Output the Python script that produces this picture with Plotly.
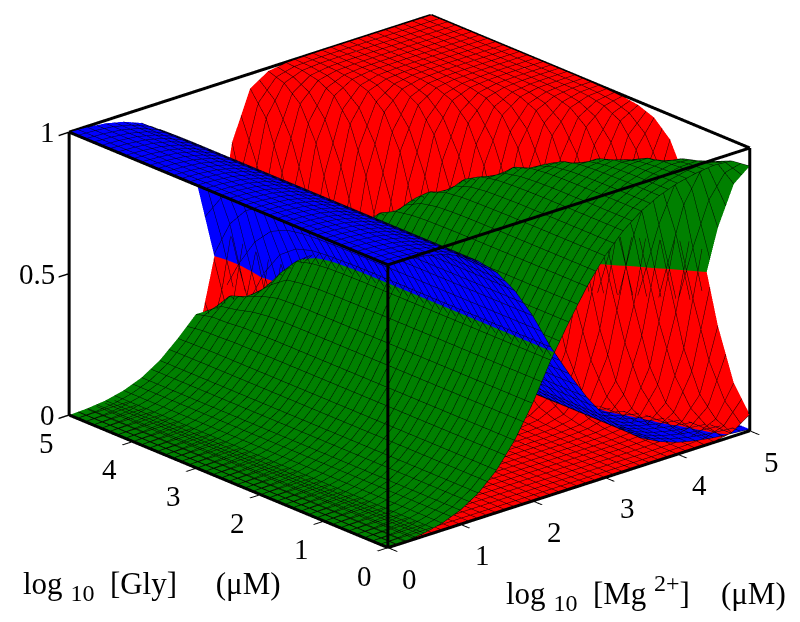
import numpy as np
import plotly.graph_objects as go

# log10 concentrations of the data grid
mg_log = [0, .25, .5, .75, 1, 1.25, 1.5, 1.75, 2, 2.25, 2.5, 2.75, 3, 3.25, 3.5, 3.75, 4, 4.25, 4.5, 4.75, 5]
gly_log = [0, .25, .5, .75, 1, 1.25, 1.5, 1.75, 2, 2.25, 2.5, 2.75, 3, 3.25, 3.5, 3.75, 4, 4.25, 4.5, 4.75, 5]

# fractions x 1000, one row per gly_log value, one column per mg_log value
RED = [
[0,0,0,0,0,0,0,0,0,0,0,0,0,0,0,0,0,1,3,14,58],
[0,0,0,0,0,0,0,0,0,0,0,0,0,0,0,0,1,2,10,39,146],
[0,0,0,0,0,0,0,0,0,0,0,0,0,0,0,0,2,6,26,102,325],
[0,0,0,0,0,0,0,0,0,0,0,0,0,0,0,1,4,17,70,241,573],
[0,0,0,0,0,0,0,0,0,0,0,0,0,0,1,3,11,47,174,472,791],
[0,0,0,0,0,0,0,0,0,0,0,0,0,0,2,7,31,121,370,713,913],
[0,0,0,0,0,0,0,0,0,0,0,0,0,1,5,21,83,280,624,875,967],
[0,0,0,0,0,0,0,0,0,0,0,0,1,3,13,55,202,521,822,952,988],
[0,0,0,0,0,0,0,0,0,0,0,0,2,8,36,141,415,753,928,982,996],
[0,0,0,0,0,0,0,0,0,0,0,1,5,23,95,315,666,895,973,994,998],
[0,0,0,0,0,0,0,0,0,0,1,3,14,62,228,564,848,960,990,998,999],
[0,0,0,0,0,0,0,0,0,0,2,8,39,156,453,783,940,985,997,999,1000],
[0,0,0,0,0,0,0,0,0,1,5,23,102,342,698,910,978,995,999,1000,1000],
[0,0,0,0,0,0,0,0,0,3,13,63,241,593,867,966,992,998,1000,1000,1000],
[0,0,0,0,0,0,0,0,1,7,36,158,471,803,948,988,997,999,1000,1000,1000],
[0,0,0,0,0,0,0,1,4,20,96,344,714,920,981,996,999,1000,1000,1000,1000],
[0,0,0,0,0,0,0,2,10,54,229,595,875,970,993,998,1000,1000,1000,1000,1000],
[0,0,0,0,0,0,1,5,28,137,454,805,951,989,998,999,1000,1000,1000,1000,1000],
[0,0,0,0,0,0,2,14,75,308,699,920,982,996,999,1000,1000,1000,1000,1000,1000],
[0,0,0,0,0,1,6,38,185,555,867,970,994,999,1000,1000,1000,1000,1000,1000,1000],
[0,0,0,0,0,3,18,99,388,778,948,989,998,999,1000,1000,1000,1000,1000,1000,1000],
]
GREEN = [
[0,3,10,25,50,90,150,235,345,477,591,696,784,852,901,935,958,972,980,975,936],
[0,3,10,25,50,90,150,235,345,477,591,696,784,852,901,935,957,971,973,950,849],
[0,3,10,25,50,90,150,235,345,477,591,696,784,852,901,935,956,967,957,888,671],
[0,3,10,25,50,90,150,235,345,477,591,696,784,852,901,934,954,956,914,751,424],
[0,3,10,25,50,90,150,235,345,477,591,696,784,852,900,932,947,927,812,522,208],
[0,3,10,25,50,90,150,235,345,477,591,696,784,852,899,928,928,855,619,284,86],
[0,3,10,25,50,90,150,235,345,477,591,696,784,851,896,915,878,701,370,124,33],
[0,3,10,25,50,90,150,235,345,477,591,696,783,849,889,884,764,466,175,47,12],
[0,3,10,25,50,90,150,235,345,477,591,696,782,845,869,803,560,240,71,18,4],
[0,3,10,25,50,90,150,235,345,477,591,695,780,832,815,640,320,102,27,6,2],
[0,3,10,25,50,90,150,235,345,477,590,694,773,799,696,408,146,39,10,2,1],
[0,3,10,25,50,90,150,235,345,477,590,690,753,719,493,203,57,15,3,1,0],
[0,3,10,25,50,90,150,235,345,477,588,680,704,561,272,84,21,5,1,0,0],
[0,3,10,25,50,90,150,235,345,476,583,652,595,347,120,32,8,2,0,0,0],
[0,3,10,25,50,90,150,235,345,474,570,586,415,168,47,11,3,1,0,0,0],
[0,3,10,25,50,90,150,235,344,467,534,457,224,68,17,4,1,0,0,0,0],
[0,3,10,25,50,90,150,234,341,451,456,282,98,26,6,2,0,0,0,0,0],
[0,3,10,25,50,90,150,234,325,385,310,136,38,9,2,1,0,0,0,0,0],
[0,3,10,25,50,90,150,228,300,305,170,56,14,3,1,0,0,0,0,0,0],
[0,3,10,25,50,90,149,226,280,212,79,21,5,1,0,0,0,0,0,0,0],
[0,3,10,25,50,90,147,212,211,106,31,8,2,1,0,0,0,0,0,0,0],
]
BLUE = [
[1000,997,990,975,950,910,850,765,655,523,409,304,216,148,99,65,42,27,17,11,6],
[1000,997,990,975,950,910,850,765,655,523,409,304,216,148,99,65,42,27,17,11,5],
[1000,997,990,975,950,910,850,765,655,523,409,304,216,148,99,65,42,27,17,10,4],
[1000,997,990,975,950,910,850,765,655,523,409,304,216,148,99,65,42,27,16,8,3],
[1000,997,990,975,950,910,850,765,655,523,409,304,216,148,99,65,42,26,14,6,1],
[1000,997,990,975,950,910,850,765,655,523,409,304,216,148,99,65,41,24,11,3,1],
[1000,997,990,975,950,910,850,765,655,523,409,304,216,148,98,64,39,19,6,1,0],
[1000,997,990,975,950,910,850,765,655,523,409,304,216,148,98,61,34,13,3,1,0],
[1000,997,990,975,950,910,850,765,655,523,409,304,216,147,95,56,25,7,1,0,0],
[1000,997,990,975,950,910,850,765,655,523,409,304,215,145,90,45,14,3,0,0,0],
[1000,997,990,975,950,910,850,765,655,523,409,303,213,139,76,28,6,1,0,0,0],
[1000,997,990,975,950,910,850,765,655,523,408,302,208,125,54,14,3,0,0,0,0],
[1000,997,990,975,950,910,850,765,655,523,407,297,194,97,30,6,1,0,0,0,0],
[1000,997,990,975,950,910,850,765,655,521,404,285,164,60,13,2,0,0,0,0,0],
[1000,997,990,975,950,910,850,765,654,519,394,256,114,29,5,1,0,0,0,0,0],
[1000,997,990,975,950,910,850,765,652,513,370,199,62,12,2,0,0,0,0,0,0],
[1000,997,990,975,950,910,850,764,649,495,315,123,27,4,1,0,0,0,0,0,0],
[1000,997,990,975,950,910,849,761,637,451,223,59,11,2,0,0,0,0,0,0,0],
[1000,997,990,975,950,910,848,754,605,362,123,24,4,1,0,0,0,0,0,0,0],
[1000,997,990,975,950,909,845,736,534,233,54,9,1,0,0,0,0,0,0,0,0],
[1000,997,990,975,950,907,835,689,402,116,21,3,0,0,0,0,0,0,0,0,0],
]
axis_ticks = [0, 1, 2, 3, 4, 5]
z_ticks = [0, 0.5, 1]
z_labels = ['0', '0.5', '1']

def surf(table, colour, mesh):
    line = dict(show=True, start=0, end=5, size=0.125, color=mesh, width=1)
    return go.Surface(x=mg_log, y=gly_log, z=np.array(table) / 1000, colorscale=[[0, colour], [1, colour]],
                      showscale=False, hoverinfo='skip',
                      lighting=dict(ambient=1, diffuse=0, specular=0, fresnel=0, roughness=1),
                      contours=dict(x=line, y=line, z=dict(show=False)))

edges = [((0, 0, 0), (5, 0, 0)), ((0, 0, 0), (0, 5, 0)), ((0, 0, 0), (0, 0, 1)), ((5, 0, 0), (5, 0, 1)),
         ((0, 5, 0), (0, 5, 1)), ((0, 0, 1), (5, 0, 1)), ((0, 0, 1), (0, 5, 1)), ((5, 0, 1), (5, 5, 1)),
         ((0, 5, 1), (5, 5, 1))]
ex, ey, ez = [], [], []
for a, b in edges:
    ex += [a[0], b[0], None]
    ey += [a[1], b[1], None]
    ez += [a[2], b[2], None]

fig = go.Figure([surf(RED, '#ff0000', '#100000'), surf(GREEN, '#008000', '#000a00'), surf(BLUE, '#0000ff', '#000018'),
                 go.Scatter3d(x=ex, y=ey, z=ez, mode='lines', line=dict(color='black', width=6),
                              hoverinfo='skip', showlegend=False)])
ax = dict(showbackground=False, showgrid=False, zeroline=False, showline=False, ticks='outside', ticklen=14,
          tickcolor='black', tickwidth=3, title=dict(text=''), showspikes=False, showticklabels=False)
tfont = dict(family='Liberation Serif', size=31, color='black')
nfont = dict(family='Liberation Serif', size=29, color='black')
scene_notes = []
for t in axis_ticks:
    scene_notes.append(dict(x=t, y=0, z=0, text=str(t), showarrow=False, xshift=22, yshift=-31, font=nfont))
    scene_notes.append(dict(x=0, y=t, z=0, text=str(t), showarrow=False, xshift=-23, yshift=-28, font=nfont))
for t, s in zip(z_ticks, z_labels):
    scene_notes.append(dict(x=0, y=5, z=t, text=s, showarrow=False, xanchor='right', xshift=-12, font=nfont))

sub10 = '<sub><span style="font-size:24px">10</span></sub>'
sup2 = '<sup><span style="font-size:24px">2+</span></sup>'
cx, cy, cz = 0.0227, -0.020, -0.0306
fig.update_layout(
    width=800, height=622, margin=dict(l=0, r=0, t=0, b=0), paper_bgcolor='white', showlegend=False,
    scene=dict(domain=dict(x=[0.025, 1], y=[0.095, 1]), aspectmode='manual',
               aspectratio=dict(x=1.713, y=1.713, z=1.08),
               camera=dict(projection=dict(type='orthographic'),
                           center=dict(x=cx, y=cy, z=cz),
                           eye=dict(x=-0.614 * 1.8 + cx, y=-0.697 * 1.8 + cy, z=0.366 * 1.8 + cz)),
               xaxis=dict(ax, range=[0, 5], tickvals=axis_ticks),
               yaxis=dict(ax, range=[0, 5], tickvals=axis_ticks),
               zaxis=dict(ax, range=[0, 1], tickvals=z_ticks),
               annotations=scene_notes),
    annotations=[
        dict(text='log ' + sub10 + ' &nbsp;[Gly] &nbsp; &nbsp; (μM)', x=13 / 800, y=1 - 578 / 622, xref='paper', yref='paper',
             xanchor='left', yanchor='middle', showarrow=False, font=tfont),
        dict(text='log ' + sub10 + ' &nbsp;[Mg ' + sup2 + '] &nbsp;&nbsp; (μM)', x=496 / 800, y=1 - 585 / 622, xref='paper', yref='paper',
             xanchor='left', yanchor='middle', showarrow=False, font=tfont),
    ])
fig.write_html("out.html")
